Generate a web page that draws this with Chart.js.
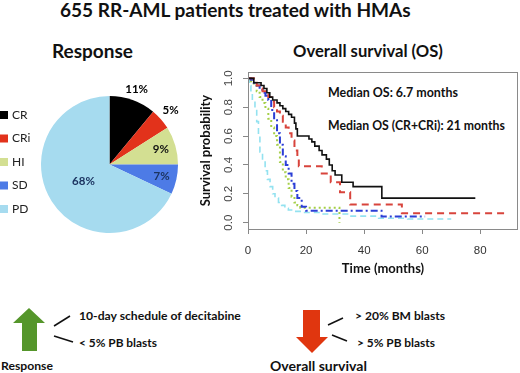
<!DOCTYPE html>
<html><head><meta charset="utf-8">
<script src="https://cdn.jsdelivr.net/npm/chart.js@4.4.1/dist/chart.umd.min.js"></script>
<style>
html,body{margin:0;padding:0;background:#fff;}
#wrap{position:relative;width:520px;height:373px;overflow:hidden;background:#fff;font-family:Lato,"Open Sans",sans-serif;}
.t{position:absolute;white-space:nowrap;line-height:1;font-weight:bold;color:#111;transform:translateY(-50%);}
canvas{position:absolute;}
svg{position:absolute;left:0;top:0;}
</style></head><body>
<div id="wrap">
<div class="t" data-x="60" data-y="9.5" data-w="351" style="font-size:20px">655 RR-AML patients treated with HMAs</div>
<div class="t" data-x="52" data-y="50" data-w="81" style="font-size:19px">Response</div>
<div class="t" data-x="293" data-y="50.5" data-w="150" style="font-size:18px">Overall survival (OS)</div>
<div class="t" data-x="328" data-y="93.3" data-w="130" style="font-size:13px">Median OS: 6.7 months</div>
<div class="t" data-x="328" data-y="125.5" data-w="177" style="font-size:13px">Median OS (CR+CRi): 21 months</div>
<div class="t" data-x="79" data-y="315.5" data-w="162" style="font-size:13px">10-day schedule of decitabine</div>
<div class="t" data-x="79" data-y="343" data-w="78" style="font-size:13px">&lt; 5% PB blasts</div>
<div class="t" data-x="1" data-y="366" data-w="52" style="font-size:13px">Response</div>
<div class="t" data-x="355" data-y="316.3" data-w="90" style="font-size:13px">&gt; 20% BM blasts</div>
<div class="t" data-x="357" data-y="342.7" data-w="78" style="font-size:13px">&gt; 5% PB blasts</div>
<div class="t" data-x="270" data-y="366" data-w="97" style="font-size:13px">Overall survival</div>
<canvas id="pie" width="230" height="170" style="left:0;top:80px"></canvas>
<canvas id="km" width="325" height="220" style="left:195px;top:60px"></canvas>
<svg width="520" height="373" viewBox="0 0 520 373">
  <polygon points="29,308 45,323 37,323 37,351 22,351 22,323 13,323" fill="#55962b"/>
  <line x1="54" y1="326" x2="70" y2="316" stroke="#111" stroke-width="1.5"/>
  <line x1="54" y1="336" x2="73" y2="342" stroke="#111" stroke-width="1.5"/>
  <polygon points="303,310 320,310 320,337 328,337 312,353 296,337 303,337" fill="#e0360f"/>
  <line x1="328" y1="325" x2="343" y2="318" stroke="#111" stroke-width="1.5"/>
  <line x1="332" y1="335" x2="347" y2="341" stroke="#111" stroke-width="1.5"/>
</svg>
</div>
<script>
// ---------- DATA ----------
const responseLabels = ['CR', 'CRi', 'HI', 'SD', 'PD'];
const responsePct = [11, 5, 9, 7, 68];
const responsePctText = ['11%', '5%', '9%', '7%', '68%'];

const crTime = [0, 2, 4.5, 5.5, 6.5, 7.5, 8.5, 10, 11, 12, 13, 14, 15, 16, 16.5, 17, 21, 22, 23, 24.5, 25.5, 27, 28, 29, 30, 32.3, 36.2, 46.1, 78.3];
const crSurv = [1, 0.97, 0.95, 0.93, 0.90, 0.87, 0.85, 0.83, 0.81, 0.79, 0.77, 0.75, 0.73, 0.69, 0.65, 0.60, 0.58, 0.56, 0.53, 0.50, 0.47, 0.44, 0.40, 0.36, 0.33, 0.28, 0.25, 0.17, 0.17];

const criTime = [0, 2, 3, 4, 5, 6, 7, 8, 9, 10, 11, 12, 13, 14, 15, 16, 17, 17.5, 25.4, 28.5, 31.7, 35.2, 53, 89.7];
const criSurv = [1, 0.98, 0.95, 0.93, 0.91, 0.89, 0.87, 0.84, 0.80, 0.77, 0.74, 0.70, 0.66, 0.62, 0.57, 0.50, 0.45, 0.39, 0.34, 0.28, 0.21, 0.125, 0.065, 0.065];

const hiTime = [0, 1, 2, 3, 4, 5, 6, 7, 8, 9, 10, 11, 12, 13, 14, 15, 16, 17, 18, 31.5];
const hiSurv = [1, 0.98, 0.95, 0.91, 0.87, 0.83, 0.79, 0.72, 0.66, 0.60, 0.54, 0.42, 0.35, 0.30, 0.24, 0.18, 0.14, 0.12, 0.104, 0];

const sdTime = [0, 1, 2, 3, 4, 5, 6, 7, 8, 9, 10, 11, 12, 13, 14, 15, 16, 17, 18.5, 20, 46, 61];
const sdSurv = [1, 0.99, 0.97, 0.95, 0.92, 0.90, 0.88, 0.85, 0.78, 0.71, 0.62, 0.54, 0.46, 0.40, 0.34, 0.27, 0.22, 0.17, 0.11, 0.083, 0.042, 0.042];

const pdTime = [0, 0.5, 1, 1.5, 2.4, 3, 3.6, 4.1, 5, 5.9, 6.7, 7.6, 8.5, 9.3, 10.5, 11.6, 12.7, 13.9, 16, 18.5, 25, 35, 45, 55, 70];
const pdSurv = [1, 0.95, 0.90, 0.85, 0.79, 0.70, 0.61, 0.49, 0.42, 0.36, 0.30, 0.25, 0.20, 0.17, 0.14, 0.12, 0.10, 0.088, 0.078, 0.07, 0.06, 0.045, 0.03, 0.025, 0.025];

const xTicks = [0, 20, 40, 60, 80];
const yTicks = [0, 0.2, 0.4, 0.6, 0.8, 1.0];
const yTickLabels = ['0.0', '0.2', '0.4', '0.6', '0.8', '1.0'];

// ---------- TEXT FIT ----------
document.querySelectorAll('.t').forEach(el => {
  el.style.left = el.dataset.x + 'px';
  el.style.top = el.dataset.y + 'px';
  const fs = parseFloat(el.style.fontSize);
  const w = el.getBoundingClientRect().width;
  el.style.fontSize = (fs * parseFloat(el.dataset.w) / w).toFixed(2) + 'px';
});

// ---------- PIE ----------
const pieColors = ['#000000', '#e2321b', '#d3df92', '#4d7be6', '#a6dbef'];
const pieLabelColors = ['#000', '#000', '#111', '#1c3461', '#1c3461'];
const pieLabelDist = [1.17, 1.19, 0.78, 0.78, 0.45];
const pieDeco = {
  id: 'pieDeco',
  afterDraw(chart) {
    const ctx = chart.ctx;
    const meta = chart.getDatasetMeta(0);
    ctx.save();
    ctx.font = 'bold 11.5px Lato, sans-serif';
    ctx.textAlign = 'center'; ctx.textBaseline = 'middle';
    meta.data.forEach((arc, i) => {
      const p = arc.getProps(['x', 'y', 'startAngle', 'endAngle', 'outerRadius'], true);
      const mid = (p.startAngle + p.endAngle) / 2;
      const r = p.outerRadius * pieLabelDist[i];
      ctx.fillStyle = pieLabelColors[i];
      ctx.fillText(responsePctText[i], p.x + r * Math.cos(mid), p.y + r * Math.sin(mid));
    });
    // legend
    ctx.font = '12px Lato, sans-serif';
    ctx.textAlign = 'left';
    chart.data.labels.forEach((lab, i) => {
      const cy = 35 + i * 23.5;
      ctx.fillStyle = pieColors[i];
      ctx.fillRect(0, cy - 4, 8, 8);
      ctx.fillStyle = '#222';
      ctx.fillText(lab, 12, cy);
    });
    ctx.restore();
  }
};
new Chart(document.getElementById('pie'), {
  type: 'pie',
  data: { labels: responseLabels, datasets: [{ data: responsePct, backgroundColor: pieColors, borderWidth: 0 }] },
  options: {
    responsive: false, animation: false,
    layout: { padding: { left: 41, right: 52, top: 16, bottom: 17 } },
    plugins: { legend: { display: false }, tooltip: { enabled: false } }
  },
  plugins: [pieDeco]
});

// ---------- KM ----------
const pts = (t, s) => t.map((v, i) => ({ x: v, y: s[i] }));
const kmDeco = {
  id: 'kmDeco',
  afterDraw(chart) {
    const { ctx, chartArea: a, scales: { y } } = chart;
    ctx.save();
    ctx.strokeStyle = '#8a8a8a'; ctx.lineWidth = 1;
    ctx.strokeRect(Math.round(a.left) + 0.5, Math.round(a.top) + 0.5, Math.round(a.right - a.left) - 1, Math.round(a.bottom - a.top));
    ctx.fillStyle = '#444';
    ctx.font = '11.5px "Liberation Sans", Arial, sans-serif';
    ctx.textAlign = 'center'; ctx.textBaseline = 'middle';
    y.ticks.forEach((t, i) => {
      const py = y.getPixelForValue(t.value);
      ctx.save(); ctx.translate(a.left - 19, py); ctx.rotate(-Math.PI / 2);
      ctx.fillText(yTickLabels[i], 0, 0); ctx.restore();
    });
    ctx.restore();
  }
};
const ds = (label, t, s, color, dash, w) => ({
  label, data: pts(t, s), borderColor: color, borderWidth: w, borderDash: dash,
  stepped: 'before', pointRadius: 0, fill: false, tension: 0
});
new Chart(document.getElementById('km'), {
  type: 'line',
  data: {
    datasets: [
      ds('CR', crTime, crSurv, '#111111', [], 1.6),
      ds('CRi', criTime, criSurv, '#d8443c', [7, 5], 2),
      ds('SD', sdTime, sdSurv, '#2b3ed6', [7, 3, 2, 3], 2),
      ds('HI', hiTime, hiSurv, '#a5cf48', [2, 3], 2),
      ds('PD', pdTime, pdSurv, '#93e2f0', [6, 4], 1.6)
    ]
  },
  options: {
    responsive: false, animation: false,
    layout: { padding: { left: 0, right: 2, top: 12, bottom: 0 } },
    plugins: { legend: { display: false }, tooltip: { enabled: false } },
    scales: {
      x: {
        type: 'linear', min: 0, max: 93,
        afterBuildTicks: s => { s.ticks = xTicks.map(v => ({ value: v })); },
        afterFit: s => { s.height = 51; },
        grid: { display: true, drawOnChartArea: false, drawTicks: true, tickLength: 5, color: '#888' },
        border: { display: false },
        ticks: { color: '#333', padding: 10, font: { family: '"Liberation Sans", Arial, sans-serif', size: 11.5 } },
        title: { display: true, text: 'Time (months)', color: '#111', padding: { top: 0, bottom: 3 }, font: { family: 'Lato, sans-serif', size: 13, weight: 'bold' } }
      },
      y: {
        type: 'linear', min: -0.044, max: 1.044,
        afterBuildTicks: s => { s.ticks = yTicks.map(v => ({ value: v })); },
        afterFit: s => { s.width = 53; },
        grid: { display: true, drawOnChartArea: false, drawTicks: true, tickLength: 5, color: '#888' },
        border: { display: false },
        ticks: { display: false },
        title: { display: true, text: 'Survival probability', color: '#111', padding: { top: 3, bottom: 0 }, font: { family: 'Lato, sans-serif', size: 13, weight: 'bold' } }
      }
    }
  },
  plugins: [kmDeco]
});
</script>
</body></html>
